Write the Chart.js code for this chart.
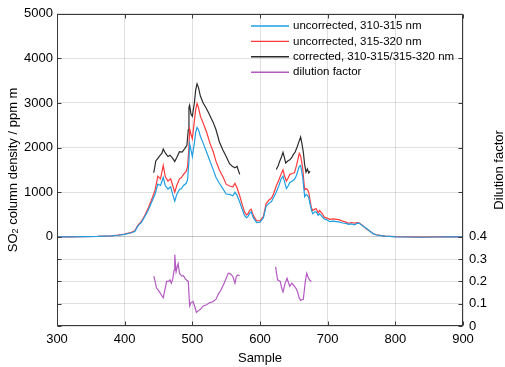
<!DOCTYPE html>
<html>
<head>
<meta charset="utf-8">
<script src="https://cdn.jsdelivr.net/npm/chart.js@4.4.0/dist/chart.umd.min.js"></script>
<style>
html, body { margin: 0; padding: 0; background: #fff; }
</style>
</head>
<body>
<canvas id="chart" width="505" height="367"></canvas>
<script>
// sample numbers shared by the two uncorrected series
const samples = [300, 320, 340, 360, 380, 390, 400, 410, 415, 418, 420, 425, 430, 435, 440, 445, 449, 453, 457, 460,
  464, 468, 471, 474, 477, 481, 484, 487, 491, 493, 495, 496, 498, 500, 503, 505, 507, 509, 512, 516,
  521, 526, 531, 535, 540, 545, 550, 555, 560, 563, 566, 570, 573, 577, 580, 582, 585, 587, 590, 595,
  600, 605, 609, 613, 617, 620, 624, 628, 631, 634, 636, 639, 642, 644, 648, 651, 654, 658, 660, 663,
  666, 668, 670, 672, 674, 676, 678, 681, 683, 686, 688, 692, 695, 699, 703, 708, 713, 718, 722, 727,
  731, 735, 740, 743, 747, 752, 757, 762, 767, 772, 778, 785, 792, 800, 820, 840, 860, 880, 900];

const uncorr310 = [0, 0, 3, 8, 20, 35, 55, 90, 120, 200, 250, 330, 460, 600, 780, 960, 1180, 1150, 1330, 1150,
  1070, 1120, 950, 800, 950, 1060, 1080, 1150, 1200, 1280, 1700, 2090, 1950, 1800, 2100, 2350, 2450, 2400, 2250, 2100,
  1900, 1700, 1500, 1330, 1200, 1080, 960, 950, 920, 1000, 930, 780, 650, 480, 430, 450, 530, 560, 430, 320,
  330, 420, 680, 750, 790, 880, 1000, 1150, 1290, 1360, 1250, 1080, 1150, 1220, 1250, 1290, 1380, 1580, 1600, 1350,
  900, 950, 930, 880, 740, 600, 520, 560, 560, 480, 520, 450, 400, 380, 340, 350, 340, 330, 310, 300,
  280, 290, 270, 300, 300, 240, 190, 130, 70, 40, 25, 15, 8, 0, -5, -10, -5, 0, 0];

const uncorr315 = [0, 0, 3, 8, 22, 38, 60, 100, 135, 220, 270, 350, 490, 650, 840, 1050, 1360, 1300, 1600, 1350,
  1250, 1300, 1150, 1000, 1150, 1300, 1330, 1400, 1470, 1580, 2000, 2420, 2300, 2200, 2600, 2850, 2990, 2900, 2700, 2550,
  2350, 2100, 1900, 1690, 1500, 1350, 1180, 1140, 1120, 1200, 1100, 920, 760, 560, 490, 510, 600, 620, 480, 360,
  360, 460, 740, 820, 870, 960, 1140, 1280, 1400, 1500, 1380, 1250, 1330, 1400, 1420, 1440, 1600, 1870, 1820, 1550,
  1050, 1080, 1060, 1000, 820, 650, 590, 620, 630, 540, 590, 520, 440, 420, 390, 400, 390, 380, 350, 330,
  300, 320, 305, 320, 310, 250, 180, 130, 75, 45, 30, 17, 10, 2, -3, -8, -3, 2, 0];

// corrected series: two stretches, null breaks the line
const corrSamples = [443, 446, 449, 452, 455, 457, 460, 464, 467, 471, 474, 477, 481, 485, 489, 492, 494, 495, 496, 498,
  500, 503, 505, 507, 509, 512, 516, 520, 524, 528, 531, 535, 540, 545, 550, 555, 559, 563, 566, 570,
  600,
  624, 627, 629, 632, 634, 636, 638, 641, 644, 647, 649, 652, 655, 658, 660, 662, 664, 666, 668, 670, 672, 674];
const corrected = [1436, 1700, 1760, 1820, 1870, 1967, 1880, 1800, 1830, 1760, 1690, 1780, 1908, 1900, 1982, 2050, 2400, 2900, 2950, 2750,
  2700, 3000, 3300, 3430, 3350, 3150, 3000, 2900, 2780, 2650, 2560, 2400, 2126, 1950, 1800, 1640, 1580, 1545, 1580, 1400,
  null,
  1508, 1600, 1690, 1800, 1895, 1780, 1655, 1700, 1727, 1780, 1836, 1900, 2018, 2150, 2236, 2091, 1900, 1618, 1450, 1520, 1430, 1472];

const dilSamples = [443, 445, 447, 450, 454, 457, 460, 462, 465, 467, 469, 471, 473, 474, 476, 478, 479, 481, 484, 487,
  489, 491, 494, 496, 498, 501, 504, 506, 509, 512, 516, 521, 526, 531, 535, 538, 542, 546, 550, 553,
  555, 558, 560, 563, 565, 567, 570,
  600,
  623, 626, 630, 632, 634, 637, 640, 642, 644, 647, 649, 651, 654, 656, 658, 660, 662, 664, 667, 669,
  671, 673, 676];
const dilution = [0.224, 0.2, 0.17, 0.16, 0.14, 0.127, 0.17, 0.2, 0.2, 0.207, 0.192, 0.21, 0.25, 0.32, 0.243, 0.27, 0.28, 0.236, 0.225, 0.225,
  0.215, 0.207, 0.2, 0.09, 0.105, 0.11, 0.083, 0.061, 0.069, 0.075, 0.09, 0.095, 0.105, 0.11, 0.12, 0.141, 0.16, 0.185, 0.214, 0.236,
  0.236, 0.229, 0.221, 0.192, 0.221, 0.229, 0.225,
  null,
  0.265, 0.207, 0.2, 0.17, 0.153, 0.19, 0.214, 0.195, 0.178, 0.192, 0.185, 0.178, 0.165, 0.148, 0.125, 0.115, 0.118, 0.12, 0.2, 0.236,
  0.22, 0.207, 0.2];

const xTicks = [300, 400, 500, 600, 700, 800, 900];
const leftTicks = [0, 1000, 2000, 3000, 4000, 5000];
const rightTicks = [0, 0.1, 0.2, 0.3, 0.4];

const seriesNames = ['uncorrected, 310-315 nm', 'uncorrected, 315-320 nm', 'corrected, 310-315/315-320 nm', 'dilution factor'];
const seriesColors = ['#1e9fe3', '#ff3a3a', '#2b2b2b', '#b459c2'];

const FONT = '"Liberation Sans", Arial, sans-serif';
const axisColor = '#3a3a3a';
const gridColor = 'rgba(0,0,0,0.12)';

function toPoints(xs, ys) {
  return xs.map((x, i) => ({ x: x, y: ys[i] }));
}

// box, inward ticks, y titles and legend (MATLAB look)
const decor = {
  id: 'decor',
  afterDatasetsDraw(chart) {
    const ctx = chart.ctx;
    const a = chart.chartArea;
    const sx = chart.scales.x, sy = chart.scales.y, sy1 = chart.scales.y1;
    const L = Math.round(a.left) + 0.5, R = Math.round(a.right) - 0.5;
    const T = Math.round(a.top) + 0.5, B = Math.round(a.bottom) - 0.5;
    ctx.save();
    ctx.strokeStyle = axisColor;
    ctx.lineWidth = 1;
    ctx.strokeRect(L, T, R - L, B - T);
    ctx.beginPath();
    xTicks.forEach(v => {
      const px = Math.round(sx.getPixelForValue(v)) + 0.5;
      ctx.moveTo(px, B); ctx.lineTo(px, B - 4);
      ctx.moveTo(px, T); ctx.lineTo(px, T + 4);
    });
    const ys = leftTicks.map(v => sy.getPixelForValue(v)).concat(rightTicks.map(v => sy1.getPixelForValue(v)));
    ys.forEach(p => {
      const py = Math.round(p) + 0.5;
      ctx.moveTo(L, py); ctx.lineTo(L + 4, py);
      ctx.moveTo(R, py); ctx.lineTo(R - 4, py);
    });
    ctx.stroke();

    // y axis titles
    const midY = (a.top + a.bottom) / 2;
    ctx.fillStyle = '#000';
    ctx.textBaseline = 'middle';
    const parts = [['SO', 13, 0], ['2', 9, 3], [' column density / ppm m', 13, 0]];
    let total = 0;
    parts.forEach(p => { ctx.font = p[1] + 'px ' + FONT; total += ctx.measureText(p[0]).width; });
    ctx.save();
    ctx.translate(13, midY);
    ctx.rotate(-Math.PI / 2);
    let cx = -total / 2;
    ctx.textAlign = 'left';
    parts.forEach(p => {
      ctx.font = p[1] + 'px ' + FONT;
      ctx.fillText(p[0], cx, p[2]);
      cx += ctx.measureText(p[0]).width;
    });
    ctx.restore();

    ctx.save();
    ctx.translate(499, midY);
    ctx.rotate(-Math.PI / 2);
    ctx.textAlign = 'center';
    ctx.font = '13px ' + FONT;
    ctx.fillText('Dilution factor', 0, 0);
    ctx.restore();

    // legend
    ctx.font = '11.5px ' + FONT;
    ctx.textAlign = 'left';
    seriesNames.forEach((name, i) => {
      const y = 26 + i * 15.4;
      ctx.strokeStyle = seriesColors[i];
      ctx.lineWidth = 1.4;
      ctx.beginPath();
      ctx.moveTo(251, y);
      ctx.lineTo(289, y);
      ctx.stroke();
      ctx.fillStyle = '#000';
      ctx.fillText(name, 293, y);
    });
    ctx.restore();
  }
};

const lineStyle = { borderWidth: 1.2, pointRadius: 0, tension: 0, spanGaps: false, fill: false };
const tickFont = { size: 13, family: FONT };

new Chart(document.getElementById('chart'), {
  type: 'line',
  data: {
    datasets: [
      Object.assign({ label: seriesNames[0], data: toPoints(samples, uncorr310), borderColor: seriesColors[0], yAxisID: 'y' }, lineStyle),
      Object.assign({ label: seriesNames[1], data: toPoints(samples, uncorr315), borderColor: seriesColors[1], yAxisID: 'y' }, lineStyle),
      Object.assign({ label: seriesNames[2], data: toPoints(corrSamples, corrected), borderColor: seriesColors[2], yAxisID: 'y' }, lineStyle),
      Object.assign({ label: seriesNames[3], data: toPoints(dilSamples, dilution), borderColor: seriesColors[3], yAxisID: 'y1' }, lineStyle)
    ]
  },
  options: {
    responsive: false,
    animation: false,
    layout: { padding: { top: 5, left: 0, right: 0, bottom: 0 } },
    plugins: { legend: { display: false }, tooltip: { enabled: false } },
    scales: {
      x: {
        type: 'linear', min: 300, max: 900,
        afterBuildTicks: s => { s.ticks = xTicks.map(v => ({ value: v })); },
        afterFit: s => { s.height = 41; },
        grid: { color: gridColor, drawTicks: false },
        border: { display: false },
        ticks: { color: '#000', font: tickFont, padding: 6, maxRotation: 0, callback: v => String(v) },
        title: { display: true, text: 'Sample', color: '#000', font: tickFont, padding: { top: 0, bottom: 1 } }
      },
      y: {
        position: 'left', min: -2000, max: 5000,
        afterBuildTicks: s => { s.ticks = leftTicks.map(v => ({ value: v })); },
        afterFit: s => { s.width = 57; },
        grid: { color: gridColor, drawTicks: false },
        border: { display: false },
        ticks: { color: '#000', font: tickFont, padding: 4, callback: v => String(v) }
      },
      y1: {
        position: 'right', min: 0, max: 1.4,
        afterBuildTicks: s => { s.ticks = rightTicks.map(v => ({ value: v })); },
        afterFit: s => { s.width = 42; },
        grid: { color: gridColor, drawTicks: false },
        border: { display: false },
        ticks: { color: '#000', font: tickFont, padding: 6,
          callback: v => (v === 0 ? '0' : v.toFixed(1)) }
      }
    }
  },
  plugins: [decor]
});
</script>
</body>
</html>
